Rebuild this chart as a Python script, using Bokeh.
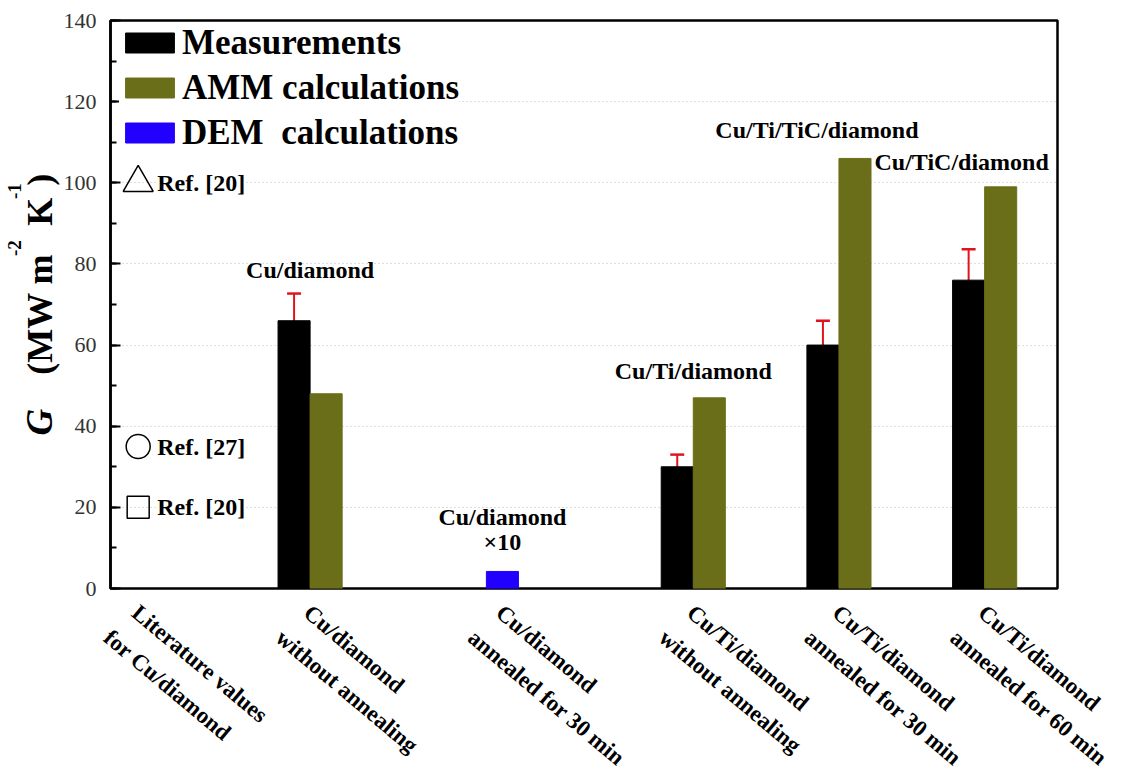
import math

from bokeh.embed import file_html
from bokeh.layouts import column, row
from bokeh.models import (ColumnDataSource, Label, LabelSet, Legend, LegendItem,
                          Range1d, SingleIntervalTicker, TeeHead, Whisker)
from bokeh.plotting import figure
from bokeh.resources import INLINE

# ---- data -------------------------------------------------------------
# sample groups along the x axis (two-line tick labels)
label_line1 = ["Literature values", "Cu/diamond", "Cu/diamond",
               "Cu/Ti/diamond", "Cu/Ti/diamond", "Cu/Ti/diamond"]
label_line2 = ["for Cu/diamond", "without annealing", "annealed for 30 min",
               "without annealing", "annealed for 30 min", "annealed for 60 min"]
group_x = [0.19, 1.37, 2.69, 4.0, 5.0, 6.0]

# measured thermal boundary conductance G (MW m^-2 K^-1) with uncertainty
meas_x = [1.37, 4.0, 5.0, 6.0]
meas_G = [66.0, 30.0, 60.0, 76.0]
meas_err = [6.7, 3.0, 6.0, 7.6]

# acoustic mismatch model
amm_x = [1.37, 4.0, 5.0, 6.0]
amm_G = [48.0, 47.0, 106.0, 99.0]

# diffuse mismatch model (shown x10)
dem_x = [2.69]
dem_G = [4.2]

# literature values for Cu/diamond
lit_x = [0.19, 0.19, 0.19]
lit_G = [100.0, 35.0, 20.0]
lit_marker = ["triangle", "circle", "square"]
lit_ref = ["Ref. [20]", "Ref. [27]", "Ref. [20]"]

# interface names written above the bars
iface_name = ["Cu/diamond", "Cu/diamond", "Cu/Ti/diamond",
              "Cu/Ti/TiC/diamond", "Cu/TiC/diamond"]
iface_x = [1.37, 2.69, 4.0, 5.0, 6.0]

# ---- geometry and style -------------------------------------------------
SERIF = "Liberation Serif"
OLIVE = "#6b6e18"
BLUE = "#2200ff"
RED = "#e0141e"
BAR_W = 0.22

X_MAX, Y_MAX = 6.5, 140
FRAME_W, FRAME_H = 947, 568
LEFT_STRIP = 60          # strip holding the y-axis title
AXIS_BORDER = 50         # room for the y tick labels
TOP_B, RIGHT_B, BOTTOM_B = 20, 67, 10
TOTAL_W = LEFT_STRIP + AXIS_BORDER + FRAME_W + RIGHT_B
MAIN_H = TOP_B + FRAME_H + BOTTOM_B
LABEL_H = 780 - MAIN_H
PX_PER_X = FRAME_W / X_MAX

fig = figure(frame_width=FRAME_W, frame_height=FRAME_H,
             min_border_left=AXIS_BORDER, min_border_right=RIGHT_B,
             min_border_top=TOP_B, min_border_bottom=BOTTOM_B,
             x_range=Range1d(0, X_MAX), y_range=Range1d(0, Y_MAX),
             output_backend="svg", toolbar_location=None)
fig.background_fill_color = "white"
fig.border_fill_color = "white"
fig.outline_line_color = "black"
fig.outline_line_width = 2.5

fig.xaxis.visible = False
fig.xgrid.visible = False
fig.ygrid.grid_line_color = "#bdbdbd"
fig.ygrid.grid_line_dash = "1 3"
fig.ygrid.grid_line_width = 1

ax = fig.yaxis[0]
ax.ticker = SingleIntervalTicker(interval=20, num_minor_ticks=2)
ax.axis_line_width = 2.5
ax.major_tick_in = 10
ax.major_tick_out = 0
ax.minor_tick_in = 6
ax.minor_tick_out = 0
ax.major_tick_line_width = 2
ax.minor_tick_line_width = 2
ax.major_label_standoff = 14
ax.major_label_text_font = SERIF
ax.major_label_text_font_size = "22px"
ax.major_label_text_color = "#333333"

# ---- bars -------------------------------------------------------------
meas_src = ColumnDataSource(dict(
    x=[v - BAR_W / 2 for v in meas_x], top=meas_G,
    upper=[g + e for g, e in zip(meas_G, meas_err)],
    lower=[g - e for g, e in zip(meas_G, meas_err)]))
amm_src = ColumnDataSource(dict(x=[v + BAR_W / 2 for v in amm_x], top=amm_G))
dem_src = ColumnDataSource(dict(x=dem_x, top=dem_G))

r_meas = fig.vbar(x="x", top="top", bottom=0, width=BAR_W, source=meas_src,
                  fill_color="black", line_color="black")
r_amm = fig.vbar(x="x", top="top", bottom=0, width=BAR_W, source=amm_src,
                 fill_color=OLIVE, line_color=OLIVE)
r_dem = fig.vbar(x="x", top="top", bottom=0, width=BAR_W, source=dem_src,
                 fill_color=BLUE, line_color=BLUE)

fig.add_layout(Whisker(base="x", upper="upper", lower="lower", source=meas_src,
                       line_color=RED, line_width=2,
                       upper_head=TeeHead(size=14, line_color=RED, line_width=2.5),
                       lower_head=TeeHead(size=14, line_color=RED, line_width=2.5)))

# ---- literature markers -----------------------------------------------
lit_src = ColumnDataSource(dict(x=lit_x, y=lit_G, marker=lit_marker, ref=lit_ref,
                                size=[30, 24, 22]))
fig.scatter(x="x", y="y", marker="marker", size="size", source=lit_src,
            fill_color=None, line_color="black", line_width=1.5)
fig.add_layout(LabelSet(x="x", y="y", text="ref", source=lit_src, x_offset=19,
                        text_baseline="middle", text_font=SERIF,
                        text_font_style="bold", text_font_size="24px",
                        text_color="black", background_fill_color="white"))

# ---- legend -----------------------------------------------------------
legend = Legend(items=[LegendItem(label="Measurements", renderers=[r_meas]),
                       LegendItem(label="AMM calculations", renderers=[r_amm]),
                       LegendItem(label="DEM  calculations", renderers=[r_dem])],
                location=(9, 435), border_line_color=None,
                background_fill_color="white", background_fill_alpha=1.0,
                glyph_width=61, glyph_height=25, label_height=41,
                label_standoff=2, spacing=4, padding=0, margin=0,
                label_text_font=SERIF, label_text_font_style="bold",
                label_text_font_size="35px", label_text_color="black",
                label_text_baseline="middle")
fig.add_layout(legend)

# ---- interface names above the bars -----------------------------------
tops = []
for xv in iface_x:
    vals = [g + e for x0, g, e in zip(meas_x, meas_G, meas_err) if x0 == xv]
    vals += [g for x0, g in zip(amm_x, amm_G) if x0 == xv]
    vals += [g for x0, g in zip(dem_x, dem_G) if x0 == xv]
    tops.append(max(vals))

name_dx = [0, 0, 0, -22, -23]
name_dy = [24, 54, 27, 28, 25]
for name, xv, yv, dx, dy in zip(iface_name, iface_x, tops, name_dx, name_dy):
    fig.add_layout(Label(x=xv, y=yv, x_offset=dx, y_offset=dy, text=name,
                         text_align="center", text_baseline="middle",
                         text_font=SERIF, text_font_style="bold",
                         text_font_size="24px", text_color="black"))
fig.add_layout(Label(x=dem_x[0], y=dem_G[0], y_offset=29, text="\u00d710",
                     text_align="center", text_baseline="middle",
                     text_font=SERIF, text_font_style="bold",
                     text_font_size="24px", text_color="black"))

# ---- strip under the frame: rotated two-line category labels ------------
below = figure(width=TOTAL_W, height=LABEL_H, min_border=0,
               x_range=Range1d(-(LEFT_STRIP + AXIS_BORDER) / PX_PER_X,
                               (TOTAL_W - LEFT_STRIP - AXIS_BORDER) / PX_PER_X),
               y_range=Range1d(-LABEL_H, 0),
               x_axis_type=None, y_axis_type=None,
               output_backend="svg", toolbar_location=None)
below.grid.visible = False
below.outline_line_color = None
ANG = -math.radians(40)
cat_src = ColumnDataSource(dict(x=group_x, y=[-0.5] * len(group_x),
                                l1=label_line1, l2=label_line2))
for col, dx, dy in (("l1", 5, 1), ("l2", -23, 26)):
    below.text(x="x", y="y", text=col, source=cat_src,
               x_offset=dx, y_offset=dy, angle=ANG,
               text_align="left", text_baseline="top",
               text_font={"value": SERIF}, text_font_style="bold",
               text_font_size="23px", text_color="black")

# ---- strip left of the axis: y title G (MW m^-2 K^-1) ------------------
side = figure(width=LEFT_STRIP, height=MAIN_H, min_border=0,
              x_range=Range1d(0, LEFT_STRIP), y_range=Range1d(0, MAIN_H),
              x_axis_type=None, y_axis_type=None,
              output_backend="svg", toolbar_location=None)
side.grid.visible = False
side.outline_line_color = None
title_src = ColumnDataSource(dict(
    text=["G", "(MW m", "-2", "K", "-1", ")"],
    x=[39, 39, 14, 39, 14, 39],
    y=[MAIN_H - v for v in (437, 373, 248, 216, 188, 174)],
    size=["37px", "36px", "19px", "36px", "19px", "36px"],
    style=["bold italic", "bold", "bold", "bold", "bold", "bold"]))
side.text(x="x", y="y", text="text", source=title_src, angle=math.pi / 2,
          text_align="left", text_baseline="alphabetic",
          text_font={"value": SERIF}, text_font_style="style",
          text_font_size="size", text_color="black")

p = column(row(side, fig, spacing=0), below, spacing=0)
open("out.html", "w").write(file_html(p, INLINE))
